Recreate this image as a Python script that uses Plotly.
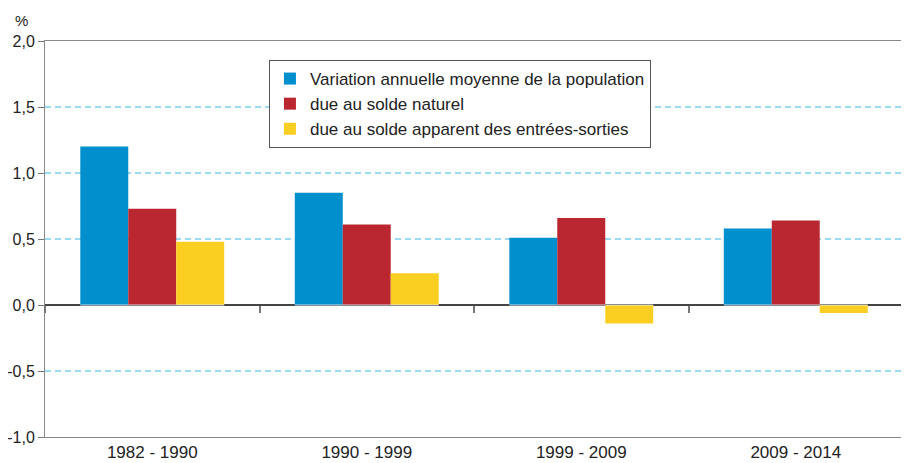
import plotly.graph_objects as go

periods = ["1982 - 1990", "1990 - 1999", "1999 - 2009", "2009 - 2014"]
variation_totale = [1.20, 0.85, 0.51, 0.58]
solde_naturel = [0.73, 0.61, 0.66, 0.64]
solde_migratoire = [0.48, 0.24, -0.14, -0.06]
series_names = [
    "Variation annuelle moyenne de la population",
    "due au solde naturel",
    "due au solde apparent des entrées-sorties",
]
y_tick_vals = [-1.0, -0.5, 0.0, 0.5, 1.0, 1.5, 2.0]
y_tick_text = ["-1,0", "-0,5", "0,0", "0,5", "1,0", "1,5", "2,0"]

colors = ["#028FCE", "#BA2730", "#FBCF22"]
FONT = "Liberation Sans, Arial, sans-serif"

fig = go.Figure()
for name, vals, col in zip(series_names, [variation_totale, solde_naturel, solde_migratoire], colors):
    fig.add_trace(go.Bar(x=periods, y=vals, name=name, marker=dict(color=col, line=dict(width=0)),
                         hoverinfo="skip"))

# invisible trace for the zero-line tick axis
fig.add_trace(go.Bar(x=periods, y=[0, 0, 0, 0], xaxis="x2", showlegend=False,
                     marker=dict(color="rgba(0,0,0,0)"), hoverinfo="skip"))

# page body has an 8px margin: shrink the figure so the plot area lands where the reference has it
fig.update_layout(
    width=901, height=455,
    margin=dict(l=37, r=6, t=33, b=26, autoexpand=False),
    paper_bgcolor="white", plot_bgcolor="white",
    barmode="group", bargap=0.329, bargroupgap=0,
    font=dict(family=FONT, size=17, color="#222"),
    showlegend=True,
    legend=dict(
        x=0.261, y=0.952, xanchor="left", yanchor="top",
        bordercolor="#555", borderwidth=1, bgcolor="white",
        font=dict(size=17, color="#222"),
        tracegroupgap=0, itemsizing="constant",
    ),
    xaxis=dict(
        type="category", categoryarray=periods, range=[-0.5, 3.5],
        showline=True, mirror=True, linecolor="#888", linewidth=1,
        ticks="", showgrid=False, zeroline=False, automargin=False,
        tickfont=dict(size=17, color="#222"),
    ),
    xaxis2=dict(
        type="category", categoryarray=periods, range=[-0.5, 3.5],
        overlaying="x", anchor="free", position=1/3, side="bottom",
        showline=False, showgrid=False, zeroline=False, automargin=False,
        ticks="outside", tickson="boundaries", ticklen=7, tickcolor="#777", tickwidth=2,
        showticklabels=False,
    ),
    yaxis=dict(
        range=[-1.0, 2.0], tickvals=y_tick_vals, ticktext=y_tick_text,
        showline=True, mirror=True, linecolor="#888", linewidth=1,
        ticks="outside", ticklen=6, tickcolor="#777", automargin=False,
        showgrid=True, gridcolor="#9ADAF4", gridwidth=1.5, griddash="6px,4px",
        zeroline=True, zerolinecolor="#444", zerolinewidth=1.5,
        tickfont=dict(size=16, color="#222"),
    ),
    annotations=[dict(text="%", xref="paper", yref="paper", x=-0.027, y=1.053,
                      xanchor="center", yanchor="middle", showarrow=False,
                      font=dict(size=15, color="#222"))],
)

fig.write_html("out.html")
